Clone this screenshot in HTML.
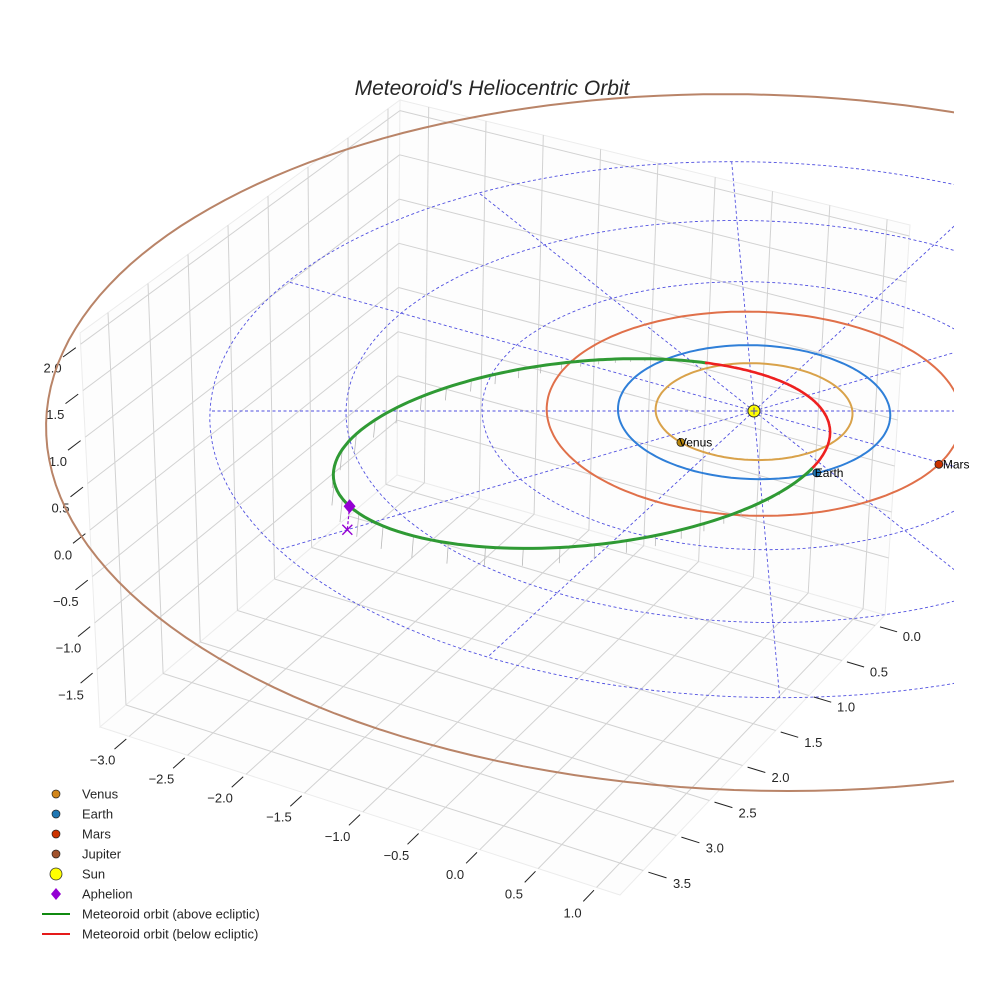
<!DOCTYPE html>
<html><head><meta charset="utf-8"><title>Meteoroid's Heliocentric Orbit</title>
<style>
html,body{margin:0;padding:0;background:#fff;}
svg{display:block;font-family:"Liberation Sans",sans-serif;}
</style></head>
<body>
<svg id="chart" width="984" height="984" viewBox="0 0 984 984" xmlns="http://www.w3.org/2000/svg">
<defs><clipPath id="clipAx"><rect x="0" y="0" width="954" height="984"/></clipPath>
<clipPath id="clipLbl"><rect x="0" y="0" width="972" height="984"/></clipPath></defs>
<rect x="0" y="0" width="984" height="984" fill="#fff"/>
<g id="box"></g>
<g id="ticks"></g>
<g id="scene" clip-path="url(#clipAx)"></g>
<g id="labels" clip-path="url(#clipLbl)"></g>
<text x="492" y="95" text-anchor="middle" font-size="21" font-style="italic" fill="#262626">Meteoroid's Heliocentric Orbit</text>
<g id="legend"></g>
</svg>
<script>
// ---- data ----
const xTicks = [-3.0,-2.5,-2.0,-1.5,-1.0,-0.5,0.0,0.5,1.0];
const yTicks = [0.0,0.5,1.0,1.5,2.0,2.5,3.0,3.5];
const zTicks = [-1.5,-1.0,-0.5,0.0,0.5,1.0,1.5,2.0];
const planetNames = ["Venus","Earth","Mars"];
const planetRadii = [0.723,1.0,1.524];
const planetAngles = [140,65.5,31];
const orbitNames = ["Venus","Earth","Mars","Jupiter"];
const orbitRadii = [0.723,1.0,1.524,5.2];
const gridRings = [1,2,3,4];
const gridSpokes = [0,30,60,90,120,150,180,210,240,270,300,330];
const meteorE = [0.75];
const meteorP = [0.86];
const meteorPeri = [330];
const meteorNode = [65.5];
const meteorIncl = [4];

const NS="http://www.w3.org/2000/svg";
const X0=-3.25,X1=1.2,Y0=-0.15,Y1=3.85,Z0=-2.12,Z1=2.12;
const cD=[397,475],cC=[885,615],cA=[100,727],cB=[620,895];
const tD=[400,100],tC=[910,225],tA=[80,333],tB=[612,480];
function lerp(a,b,t){return [a[0]+(b[0]-a[0])*t,a[1]+(b[1]-a[1])*t];}
function boxUVW(u,v,w){
  const f0=lerp(lerp(cD,cC,u),lerp(cA,cB,u),v);
  const f1=lerp(lerp(tD,tC,u),lerp(tA,tB,u),v);
  return lerp(f0,f1,w);
}
function boxP(x,y,z){return boxUVW((x-X0)/(X1-X0),(y-Y0)/(Y1-Y0),(z-Z0)/(Z1-Z0));}
function sceneP(x,y,z){
  const dx=136*x+6*y, dy=67*y-93*z, f=1+0.00026*dy;
  return [754+dx*f,411+dy*f];
}
function el(tag,attrs,parent){const e=document.createElementNS(NS,tag);for(const k in attrs)e.setAttribute(k,attrs[k]);parent.appendChild(e);return e;}
function line(p,q,attrs,parent){return el('line',Object.assign({x1:p[0].toFixed(1),y1:p[1].toFixed(1),x2:q[0].toFixed(1),y2:q[1].toFixed(1)},attrs),parent);}
function poly(pts){return pts.map(p=>p[0].toFixed(1)+','+p[1].toFixed(1)).join(' ');}

// ---- box panes ----
const box=document.getElementById('box');
const paneAttrs={fill:'#fdfdfd',stroke:'#ececec','stroke-width':1};
let pane;
pane=el('polygon',Object.assign({points:poly([cD,cA,tA,tD])},paneAttrs),box);


pane=el('polygon',Object.assign({points:poly([cD,cC,tC,tD])},paneAttrs),box);


pane=el('polygon',Object.assign({points:poly([cD,cC,cB,cA])},paneAttrs),box);


const ga={stroke:'#d2d2d2','stroke-width':1};
let g;
yTicks.forEach(y=>{
  g=line(boxP(X0,y,Z0),boxP(X0,y,Z1),ga,box);
  
  
  g=line(boxP(X0,y,Z0),boxP(X1,y,Z0),ga,box);
  
  
});
xTicks.forEach(x=>{
  g=line(boxP(x,Y0,Z0),boxP(x,Y0,Z1),ga,box);
  
  
  g=line(boxP(x,Y0,Z0),boxP(x,Y1,Z0),ga,box);
  
  
});
zTicks.forEach(z=>{
  g=line(boxP(X0,Y0,z),boxP(X0,Y1,z),ga,box);
  
  
  g=line(boxP(X0,Y0,z),boxP(X1,Y0,z),ga,box);
  
  
});

// ---- ticks & labels ----
const tk=document.getElementById('ticks');
const ta={stroke:'#222','stroke-width':1};
const la={'font-size':13,fill:'#262626','text-anchor':'middle'};
let t;
xTicks.forEach(x=>{
  const u=(x-X0)/(X1-X0);
  t=line(boxUVW(u,1.01,0),boxUVW(u,1.05,0),ta,tk);
  
  
  const p=boxUVW(u,1.09,0);
  t=el('text',Object.assign({x:p[0].toFixed(1),y:(p[1]+5).toFixed(1)},la),tk);
  t.textContent=x.toFixed(1).replace('-','\u2212');
  
  
});
yTicks.forEach(y=>{
  const v=(y-Y0)/(Y1-Y0);
  t=line(boxUVW(1.01,v,0),boxUVW(1.045,v,0),ta,tk);
  
  
  const p=boxUVW(1.075,v,0);
  t=el('text',Object.assign({x:p[0].toFixed(1),y:(p[1]+5).toFixed(1)},la),tk);
  t.textContent=y.toFixed(1).replace('-','\u2212');
  
  
});
zTicks.forEach(z=>{
  const w=(z-Z0)/(Z1-Z0);
  t=line(boxUVW(0,1.015,w),boxUVW(0,1.055,w),ta,tk);
  
  
  const p=boxUVW(0,1.1,w);
  t=el('text',Object.assign({x:(p[0]+4).toFixed(1),y:(p[1]+5).toFixed(1)},la),tk);
  t.textContent=z.toFixed(1).replace('-','\u2212');
  
  
});

// ---- scene ----
const sc=document.getElementById('scene');
const lbl=document.getElementById('labels');
const dash={stroke:'#5050e0','stroke-width':0.9,fill:'none','stroke-dasharray':'3,2.5'};
function circlePath(r){const pts=[];for(let i=0;i<=360;i+=2){const a=i*Math.PI/180;pts.push(sceneP(r*Math.cos(a),r*Math.sin(a),0));}return 'M'+pts.map(p=>p[0].toFixed(1)+','+p[1].toFixed(1)).join('L');}
let s;
gridRings.forEach(r=>{
  s=el('path',Object.assign({d:circlePath(r)},dash),sc);
  
  
});
const rMax=gridRings[gridRings.length-1];
gridSpokes.forEach(a=>{
  const rad=a*Math.PI/180;
  s=line(sceneP(0,0,0),sceneP(rMax*Math.cos(rad),rMax*Math.sin(rad),0),dash,sc);
  
  
});
const orbitColors=['#d9a24a','#2f7fd8','#e0704a','#b98468'];
orbitRadii.forEach((r,i)=>{
  s=el('path',{d:circlePath(r),fill:'none',stroke:orbitColors[i],'stroke-width':2},sc);
  
  
});

const e=meteorE[0],p=meteorP[0],peri=meteorPeri[0],node=meteorNode[0],inc=meteorIncl[0]*Math.PI/180;
function met(thDeg){
  const th=thDeg*Math.PI/180;
  const r=p/(1+e*Math.cos(th-peri*Math.PI/180));
  return [r*Math.cos(th),r*Math.sin(th),r*Math.sin(th-node*Math.PI/180)*Math.sin(inc)];
}
for(let th=0;th<360;th+=4){
  const q=met(th);
  if(q[2]<=0.005)continue;
  s=line(sceneP(q[0],q[1],q[2]),sceneP(q[0],q[1],0),{stroke:'#b8b8b8','stroke-width':0.8},sc);
  
  
}
let segs=[],cur=null;
for(let th=0;th<=360.01;th+=1){
  const q=met(th);const above=q[2]>=0;
  const pt=sceneP(q[0],q[1],q[2]);
  if(!cur||cur.above!==above){if(cur)cur.pts.push(pt);cur={above,pts:[pt]};segs.push(cur);}
  else cur.pts.push(pt);
}
segs.forEach(sg=>{
  s=el('path',{d:'M'+sg.pts.map(q=>q[0].toFixed(1)+','+q[1].toFixed(1)).join('L'),fill:'none',stroke:sg.above?'#2f9a34':'#ee2020','stroke-width':sg.above?3:2.6,'stroke-linecap':'round'},sc);
  
  
});
const aph=met(peri+180);
const ap=sceneP(aph[0],aph[1],aph[2]),ag=sceneP(aph[0],aph[1],0);
s=line(ap,ag,{stroke:'#9400d3','stroke-width':1.2,'stroke-dasharray':'3,2'},sc);


s=el('polygon',{points:poly([[ap[0],ap[1]-7],[ap[0]+6,ap[1]],[ap[0],ap[1]+7],[ap[0]-6,ap[1]]]),fill:'#9400d3'},sc);


s=el('path',{d:`M${ag[0]-5},${ag[1]-5}L${ag[0]+5},${ag[1]+5}M${ag[0]-5},${ag[1]+5}L${ag[0]+5},${ag[1]-5}`,stroke:'#9400d3','stroke-width':1.4},sc);


const sp=sceneP(0,0,0);
s=el('circle',{cx:sp[0],cy:sp[1],r:6,fill:'#ffff00',stroke:'#333','stroke-width':1},sc);


s=el('path',{d:`M${sp[0]-3.5},${sp[1]}L${sp[0]+3.5},${sp[1]}M${sp[0]},${sp[1]-3.5}L${sp[0]},${sp[1]+3.5}`,stroke:'#4040c0','stroke-width':1},sc);


const planetColors=['#b8860b','#1f77b4','#cc3300'];
planetNames.forEach((n,i)=>{
  const a=planetAngles[i]*Math.PI/180,r=planetRadii[i];
  const q=sceneP(r*Math.cos(a),r*Math.sin(a),0);
  s=el('circle',{cx:q[0].toFixed(1),cy:q[1].toFixed(1),r:4,fill:planetColors[i],stroke:'#222','stroke-width':0.8},sc);
  
  
  s=el('text',{x:(q[0]+(i===2?4:-2)).toFixed(1),y:(q[1]+4).toFixed(1),'font-size':12,fill:'#000'},lbl);
  s.textContent=n;
  
  
});

// ---- legend ----
const lg=document.getElementById('legend');
const items=[
  {n:'Venus',k:'dot',c:'#d2861a'},{n:'Earth',k:'dot',c:'#1f77b4'},{n:'Mars',k:'dot',c:'#cc3300'},
  {n:'Jupiter',k:'dot',c:'#a0522d'},{n:'Sun',k:'sun',c:'#ffff00'},{n:'Aphelion',k:'dia',c:'#9400d3'},
  {n:'Meteoroid orbit (above ecliptic)',k:'line',c:'#108a10'},{n:'Meteoroid orbit (below ecliptic)',k:'line',c:'#e51a1a'}];
items.forEach((it,i)=>{
  const y=794+i*20;
  const gi=el('g',{},lg);
  
  
  if(it.k==='dot')el('circle',{cx:56,cy:y,r:4,fill:it.c,stroke:'#222','stroke-width':0.7},gi);
  else if(it.k==='sun')el('circle',{cx:56,cy:y,r:6,fill:it.c,stroke:'#333','stroke-width':0.8},gi);
  else if(it.k==='dia')el('polygon',{points:poly([[56,y-6],[61,y],[56,y+6],[51,y]]),fill:it.c},gi);
  else el('line',{x1:42,y1:y,x2:70,y2:y,stroke:it.c,'stroke-width':2},gi);
  const tx=el('text',{x:82,y:y+4.5,'font-size':13,fill:'#262626'},gi);
  tx.textContent=it.n;
});
</script>
</body></html>
